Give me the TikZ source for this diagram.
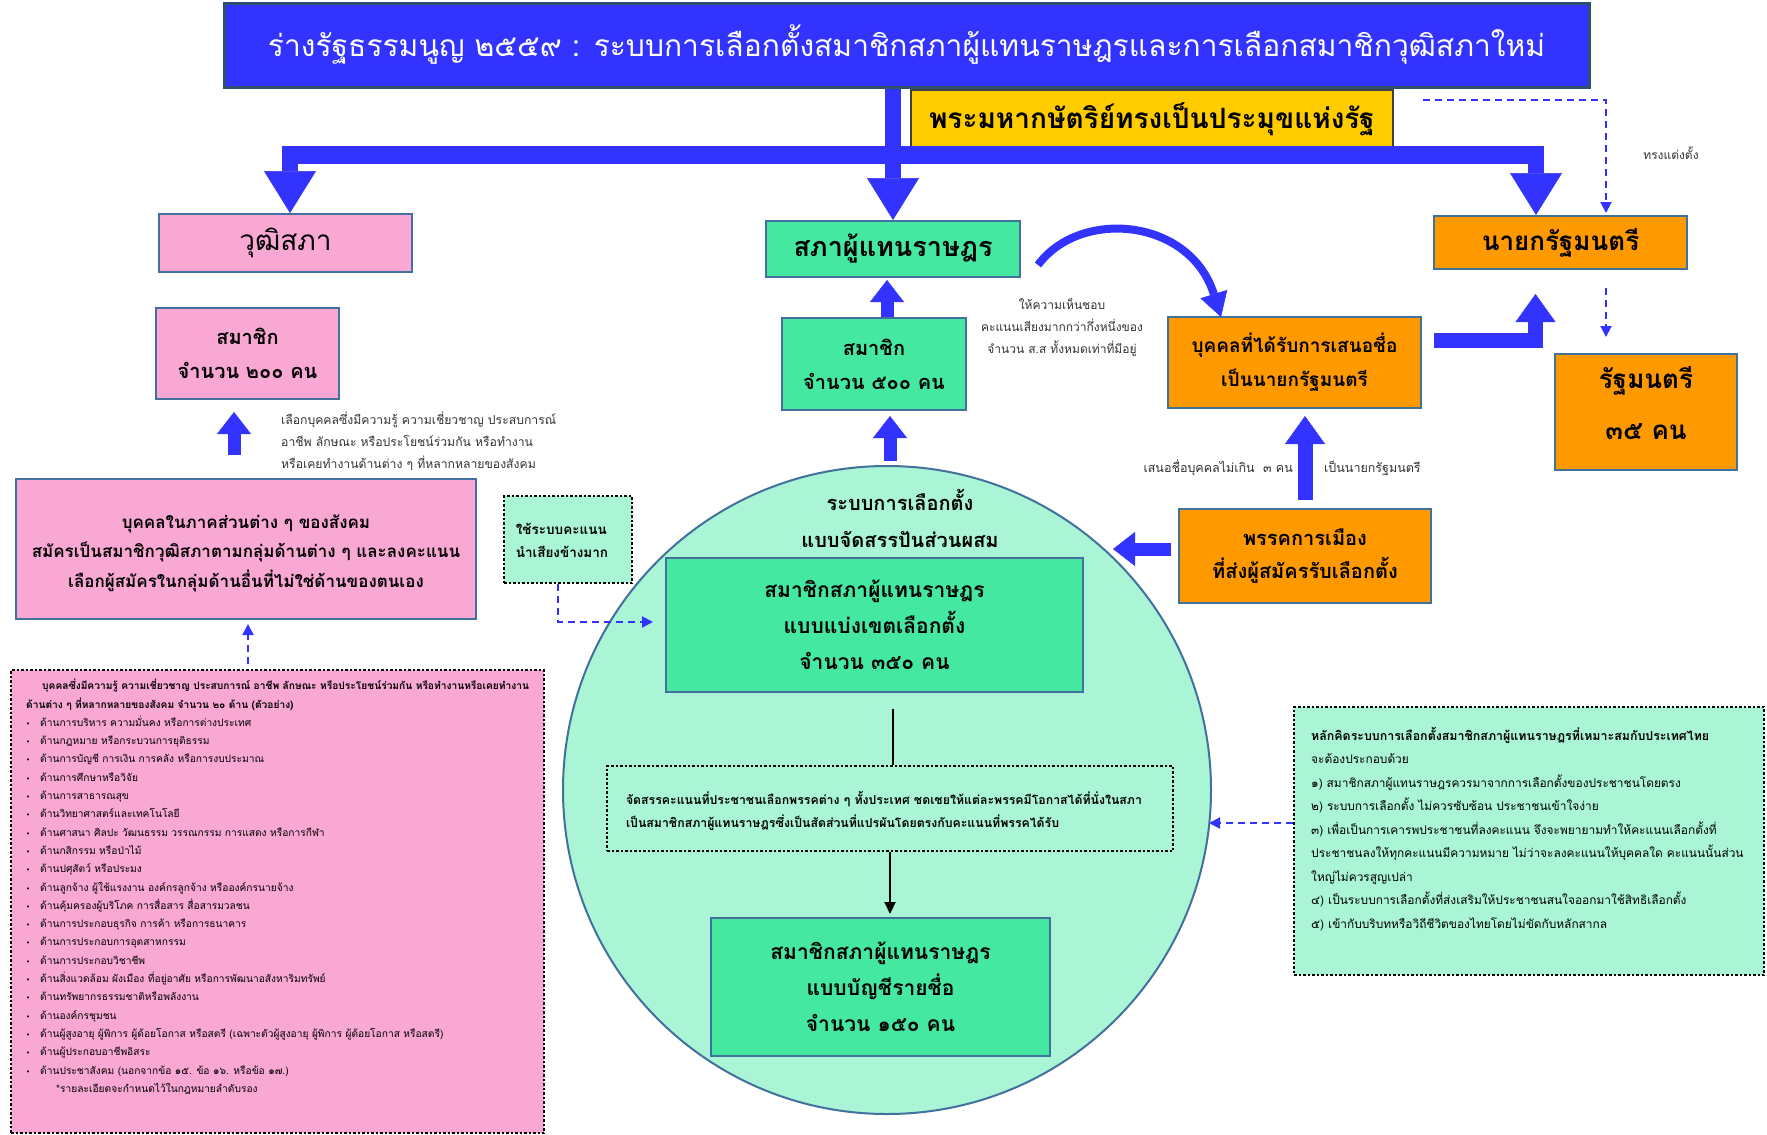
\documentclass[tikz,border=0pt]{standalone}
\usepackage{fontspec}
\setmainfont[Script=Thai]{Loma}
\newfontfamily\dejavu{DejaVu Sans}
\usetikzlibrary{arrows.meta,calc}
\definecolor{tblue}{HTML}{3333FF}
\definecolor{bord}{HTML}{41719C}
\definecolor{darkb}{HTML}{2F4F6F}
\definecolor{pinkf}{HTML}{F9A8D4}
\definecolor{mint}{HTML}{AAF5D6}
\definecolor{gfill}{HTML}{44E8A0}
\definecolor{orangef}{HTML}{FF9900}
\definecolor{goldf}{HTML}{FFCC00}
\definecolor{txtg}{HTML}{333333}
\newcommand{\fs}[2]{\fontsize{#1}{#2}\selectfont}
\newcommand{\bul}{\makebox[14pt][l]{\dejavu\fontsize{7}{7}\selectfont •}}
\begin{document}
\begin{tikzpicture}[x=1pt,y=-1pt,
  box/.style={draw=bord, line width=2pt, align=center, inner sep=0pt, text=black},
  pinkbox/.style={box, fill=pinkf},
  greenbox/.style={box, fill=gfill},
  orangebox/.style={box, fill=orangef},
  dotbox/.style={draw=black, line width=2.5pt, dash pattern=on 2.5pt off 2pt, inner sep=0pt},
  blkL/.style={draw=tblue, line width=16pt, -{Triangle[width=52pt,length=42pt,line width=0.5pt]}},
  blkM/.style={draw=tblue, line width=15pt, -{Triangle[width=40pt,length=28pt,line width=0.5pt]}},
  blkS/.style={draw=tblue, line width=13pt, -{Triangle[width=34pt,length=22pt,line width=0.5pt]}},
  dashc/.style={draw=tblue, line width=2pt, dash pattern=on 7pt off 5pt, -{Triangle[width=11pt,length=11pt]}},
  blackline/.style={draw=black, line width=2pt},
  blackarrow/.style={draw=black, line width=2pt, -{Triangle[width=11pt,length=12pt]}},
  note/.style={inner sep=0pt, text=txtg}
]
\fill[white] (0,0) rectangle (1767,1135);
\useasboundingbox (0,0) rectangle (1767,1135);

% circle
\node[circle, draw=bord, fill=mint, line width=2pt, minimum size=648pt, inner sep=0pt] (circ) at (887,790) {};

% title and king
\node[box, draw=darkb, line width=3pt, fill=tblue, minimum width=1365pt, minimum height=84pt, text=white, font=\fs{30}{36}] (title) at (906.5,45) {ร่างรัฐธรรมนูญ ๒๕๕๙ : ระบบการเลือกตั้งสมาชิกสภาผู้แทนราษฎรและการเลือกสมาชิกวุฒิสภาใหม่};
\node[box, draw=black!75, fill=goldf, minimum width=482pt, minimum height=59pt, font=\bfseries\fs{28}{32}] (king) at (1152,119.5) {พระมหากษัตริย์ทรงเป็นประมุขแห่งรัฐ};

% senate side
\node[pinkbox, minimum width=253pt, minimum height=58pt, font=\fs{28}{32}] (wutti) at (285.5,243) {วุฒิสภา};
\node[pinkbox, minimum width=183pt, minimum height=91pt, font=\bfseries\fs{20}{34}] (wmem) at (247.5,353.5) {สมาชิก\\จำนวน ๒๐๐ คน};
\node[pinkbox, minimum width=460pt, minimum height=140pt] (pinkbig) at (246,549) {};
\node[inner sep=0pt, align=center, font=\bfseries\fs{17}{29.5}] (pinktxt) at (246,553) {บุคคลในภาคส่วนต่าง ๆ ของสังคม\\สมัครเป็นสมาชิกวุฒิสภาตามกลุ่มด้านต่าง ๆ และลงคะแนน\\เลือกผู้สมัครในกลุ่มด้านอื่นที่ไม่ใช่ด้านของตนเอง};
\node[dotbox, fill=pinkf, minimum width=533pt, minimum height=463pt] (list) at (277.5,901.5) {};
\node[anchor=north west, align=left, inner sep=0pt, font=\fs{10.2}{18.3}, text=black] (listtxt) at (26,679) {%
\hspace*{16pt}\textbf{บุคคลซึ่งมีความรู้ ความเชี่ยวชาญ ประสบการณ์ อาชีพ ลักษณะ หรือประโยชน์ร่วมกัน หรือทำงานหรือเคยทำงาน}\\
\textbf{ด้านต่าง ๆ ที่หลากหลายของสังคม จำนวน ๒๐ ด้าน (ตัวอย่าง)}\\
\bul ด้านการบริหาร ความมั่นคง หรือการต่างประเทศ\\
\bul ด้านกฎหมาย หรือกระบวนการยุติธรรม\\
\bul ด้านการบัญชี การเงิน การคลัง หรือการงบประมาณ\\
\bul ด้านการศึกษาหรือวิจัย\\
\bul ด้านการสาธารณสุข\\
\bul ด้านวิทยาศาสตร์และเทคโนโลยี\\
\bul ด้านศาสนา ศิลปะ วัฒนธรรม วรรณกรรม การแสดง หรือการกีฬา\\
\bul ด้านกสิกรรม หรือป่าไม้\\
\bul ด้านปศุสัตว์ หรือประมง\\
\bul ด้านลูกจ้าง ผู้ใช้แรงงาน องค์กรลูกจ้าง หรือองค์กรนายจ้าง\\
\bul ด้านคุ้มครองผู้บริโภค การสื่อสาร สื่อสารมวลชน\\
\bul ด้านการประกอบธุรกิจ การค้า หรือการธนาคาร\\
\bul ด้านการประกอบการอุตสาหกรรม\\
\bul ด้านการประกอบวิชาชีพ\\
\bul ด้านสิ่งแวดล้อม ผังเมือง ที่อยู่อาศัย หรือการพัฒนาอสังหาริมทรัพย์\\
\bul ด้านทรัพยากรธรรมชาติหรือพลังงาน\\
\bul ด้านองค์กรชุมชน\\
\bul ด้านผู้สูงอายุ ผู้พิการ ผู้ด้อยโอกาส หรือสตรี (เฉพาะตัวผู้สูงอายุ ผู้พิการ ผู้ด้อยโอกาส หรือสตรี)\\
\bul ด้านผู้ประกอบอาชีพอิสระ\\
\bul ด้านประชาสังคม (นอกจากข้อ ๑๕. ข้อ ๑๖. หรือข้อ ๑๗.)\\
\hspace*{30pt}*รายละเอียดจะกำหนดไว้ในกฎหมายลำดับรอง};
\node[note, anchor=north west, align=left, font=\fs{12.2}{22}] (wnote) at (281,412) {เลือกบุคคลซึ่งมีความรู้ ความเชี่ยวชาญ ประสบการณ์\\อาชีพ ลักษณะ หรือประโยชน์ร่วมกัน หรือทำงาน\\หรือเคยทำงานด้านต่าง ๆ ที่หลากหลายของสังคม};

% house side
\node[greenbox, minimum width=254pt, minimum height=56pt, font=\bfseries\fs{27}{32}] (sapha) at (893,249) {สภาผู้แทนราษฎร};
\node[greenbox, minimum width=184pt, minimum height=92pt, font=\bfseries\fs{20}{34}] (smem) at (874,364) {สมาชิก\\จำนวน ๕๐๐ คน};
\node[dotbox, fill=mint, minimum width=128pt, minimum height=87pt] (majority) at (568,539.5) {};
\node[inner sep=0pt, align=left, font=\bfseries\fs{13.5}{23}] (majtxt) at (562,540) {ใช้ระบบคะแนน\\นำเสียงข้างมาก};
\node[inner sep=0pt, align=center, font=\bfseries\fs{20}{37}] (ctitle) at (900,518) {ระบบการเลือกตั้ง\\แบบจัดสรรปันส่วนผสม};
\node[greenbox, minimum width=417pt, minimum height=134pt, font=\bfseries\fs{21}{36}] (district) at (874.5,625) {สมาชิกสภาผู้แทนราษฎร\\แบบแบ่งเขตเลือกตั้ง\\จำนวน ๓๕๐ คน};
\node[dotbox, fill=mint, minimum width=566pt, minimum height=85pt] (propbox) at (890,808.5) {};
\node[inner sep=0pt, align=left, font=\bfseries\fs{12.3}{23}] (proptxt) at (884,811) {จัดสรรคะแนนที่ประชาชนเลือกพรรคต่าง ๆ ทั้งประเทศ ชดเชยให้แต่ละพรรคมีโอกาสได้ที่นั่งในสภา\\เป็นสมาชิกสภาผู้แทนราษฎรซึ่งเป็นสัดส่วนที่แปรผันโดยตรงกับคะแนนที่พรรคได้รับ};
\node[greenbox, minimum width=339pt, minimum height=138pt, font=\bfseries\fs{21}{36}] (partylist) at (880.5,987) {สมาชิกสภาผู้แทนราษฎร\\แบบบัญชีรายชื่อ\\จำนวน ๑๕๐ คน};
\node[note, align=center, font=\fs{12}{22}] (snote) at (1062,328) {ให้ความเห็นชอบ\\คะแนนเสียงมากกว่ากึ่งหนึ่งของ\\จำนวน ส.ส ทั้งหมดเท่าที่มีอยู่};

% executive side
\node[orangebox, minimum width=253pt, minimum height=91pt, font=\bfseries\fs{19}{34}] (pmcand) at (1294.5,362.5) {บุคคลที่ได้รับการเสนอชื่อ\\เป็นนายกรัฐมนตรี};
\node[orangebox, minimum width=253pt, minimum height=53pt, font=\bfseries\fs{26}{30}] (pm) at (1560.5,242.5) {นายกรัฐมนตรี};
\node[orangebox, minimum width=182pt, minimum height=116pt] (ministers) at (1646,412) {};
\node[inner sep=0pt, align=center, font=\bfseries\fs{26}{51}] (mintxt) at (1646,403) {รัฐมนตรี\\๓๕ คน};
\node[orangebox, minimum width=252pt, minimum height=94pt, font=\bfseries\fs{20}{33}] (party) at (1305,556) {พรรคการเมือง\\ที่ส่งผู้สมัครรับเลือกตั้ง};
\node[note, anchor=east, font=\fs{12.5}{14}] (nnote1) at (1293,468) {เสนอชื่อบุคคลไม่เกิน\ \ ๓ คน};
\node[note, anchor=west, font=\fs{12.5}{14}] (nnote2) at (1324,468) {เป็นนายกรัฐมนตรี};
\node[note, font=\fs{12}{14}] (appoint) at (1671,153) {ทรงแต่งตั้ง};
\node[dotbox, fill=mint, minimum width=470pt, minimum height=268pt] (principles) at (1529,841) {};
\node[anchor=north west, align=left, inner sep=0pt, font=\fs{11.9}{23.5}, text=black] (printxt) at (1311,727) {%
{\fontsize{12.4}{23.5}\selectfont\textbf{หลักคิดระบบการเลือกตั้งสมาชิกสภาผู้แทนราษฎรที่เหมาะสมกับประเทศไทย}}\\
จะต้องประกอบด้วย\\
๑) สมาชิกสภาผู้แทนราษฎรควรมาจากการเลือกตั้งของประชาชนโดยตรง\\
๒) ระบบการเลือกตั้ง ไม่ควรซับซ้อน ประชาชนเข้าใจง่าย\\
๓) เพื่อเป็นการเคารพประชาชนที่ลงคะแนน จึงจะพยายามทำให้คะแนนเลือกตั้งที่\\
ประชาชนลงให้ทุกคะแนนมีความหมาย ไม่ว่าจะลงคะแนนให้บุคคลใด คะแนนนั้นส่วน\\
ใหญ่ไม่ควรสูญเปล่า\\
๔) เป็นระบบการเลือกตั้งที่ส่งเสริมให้ประชาชนสนใจออกมาใช้สิทธิเลือกตั้ง\\
๕) เข้ากับบริบทหรือวิถีชีวิตของไทยโดยไม่ขัดกับหลักสากล};

% coordinates
\coordinate (barL) at (282,155);
\coordinate (barR) at (1544,155);
\coordinate (dnL) at (290,147);
\coordinate (dnR) at (1536,147);
\coordinate (cpt) at (1113,549);
\coordinate (cedge) at (1209,823);

% main distributor arrows
\draw[draw=tblue, line width=18pt] (barL) -- (barR);
\draw[blkL] (title.south -| sapha.north) -- (sapha.north);
\draw[blkL] (dnL) -- (dnL |- wutti.north);
\draw[blkL] (dnR) -- (dnR |- pm.north);

% block arrows
\draw[blkS] ($(pinkbig.north)+(-12,-23)$) -- ($(wmem.south)+(-13.5,12)$);
\draw[blkS] ($(circ.north)+(3,-4)$) -- ($(smem.south)+(16,5)$);
\draw[blkS] ($(smem.north)+(13,0)$) -- ($(sapha.south)+(-6,2)$);
\draw[blkM] ($(party.north)+(0,-8)$) -- ($(pmcand.south)+(10.5,7)$);
\draw[blkS] ($(party.west)+(-7,-7)$) -- (cpt);
\draw[blkM] ($(pmcand.east)+(12,-22)$) -| ($(pm.south)+(-25,24)$);
\draw[draw=tblue, line width=8pt, -{Triangle[width=28pt,length=24pt,line width=0.5pt]}] ($(sapha.east)+(17,16)$) .. controls (1080,208) and (1190,218) .. ($(pmcand.north west)+(54,1)$);

% dashed connectors
\draw[dashc] ($(king.east)+(29,-20)$) -| ($(pm.north)+(45.5,-2)$);
\draw[dashc] ($(pm.south)+(45.5,18)$) -- ($(ministers.north)+(-40,-16)$);
\draw[dashc] ($(list.north)+(-29.5,-5)$) -- ($(pinkbig.south)+(2,4)$);
\draw[dashc] ($(majority.south)+(-10,0)$) |- ($(district.west)+(-12,-3)$);
\draw[dashc] ($(principles.west)+(0,-18)$) -- (cedge);

% black connectors
\draw[blackline] ($(district.south)+(18.5,16)$) -- ($(propbox.north)+(3,0)$);
\draw[blackarrow] (propbox.south) -- ($(partylist.north)+(9.5,-3)$);
\end{tikzpicture}
\end{document}
